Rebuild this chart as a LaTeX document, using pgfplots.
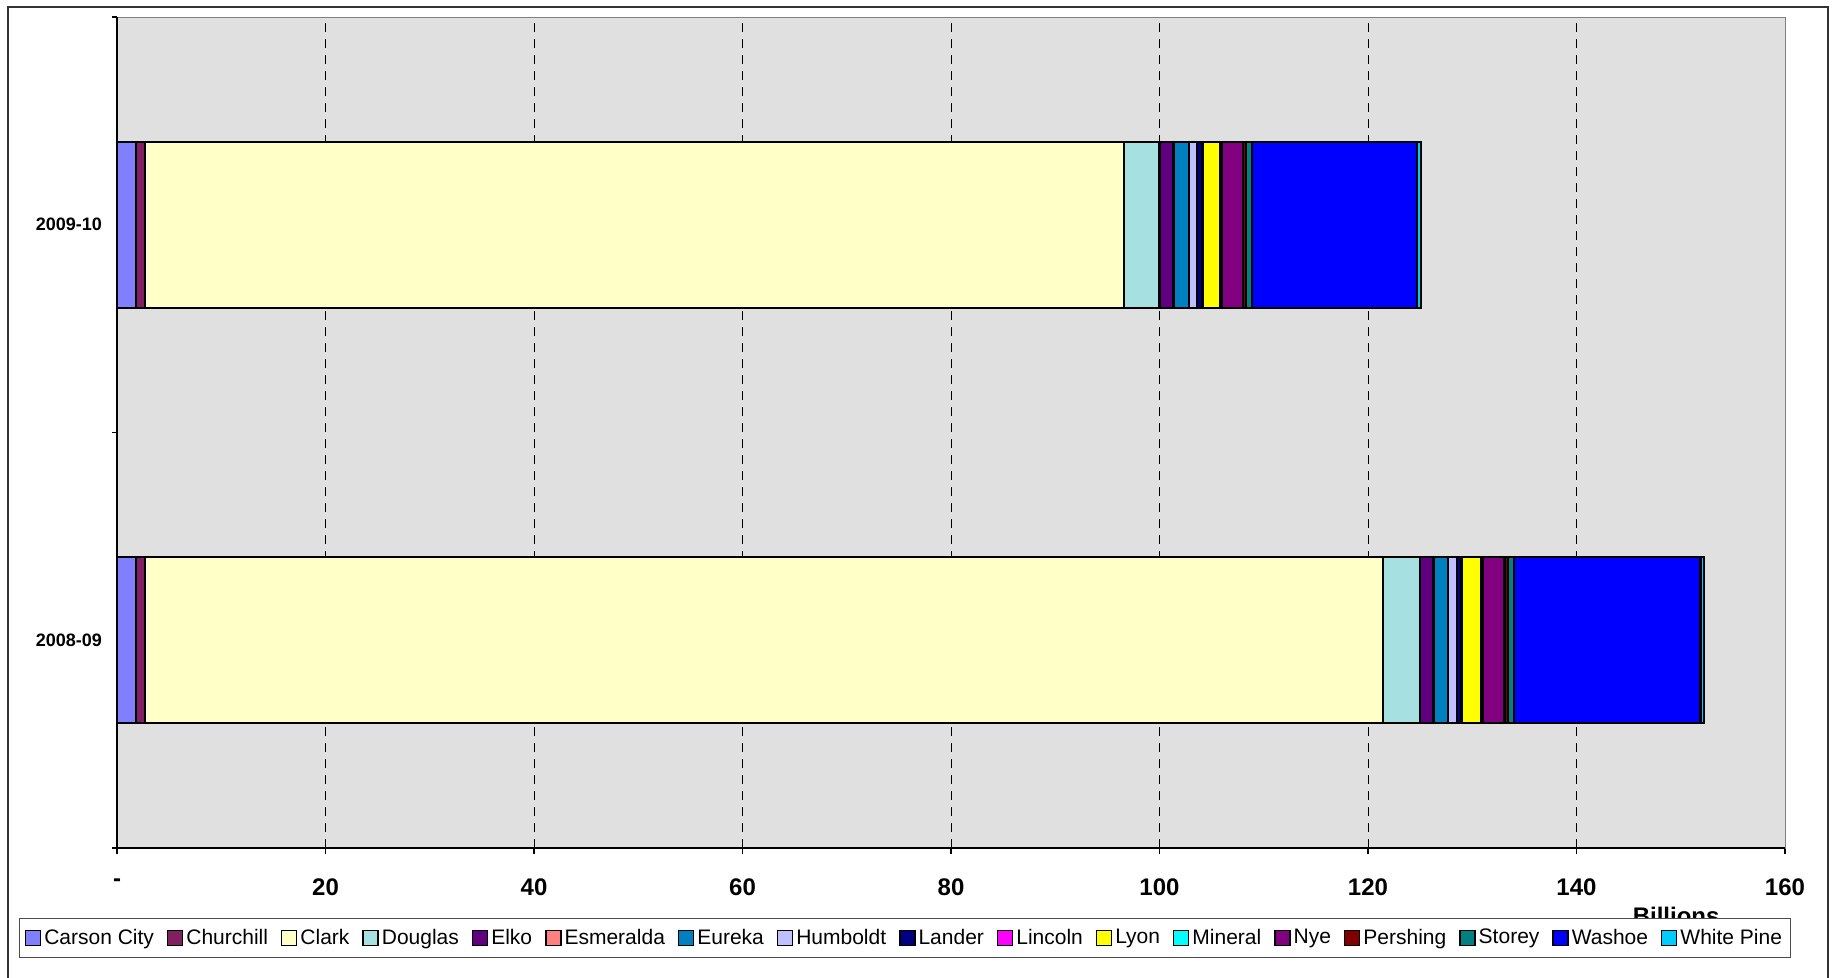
\documentclass[border=0pt]{standalone}
\usepackage{fontspec}
\setmainfont{Liberation Sans}
\usepackage{pgfplots}
\pgfplotsset{compat=1.18}
\definecolor{cCarson}{RGB}{128,128,255}
\definecolor{cChurchill}{RGB}{128,32,96}
\definecolor{cClark}{RGB}{255,255,200}
\definecolor{cDouglas}{RGB}{166,224,224}
\definecolor{cElko}{RGB}{96,0,128}
\definecolor{cEsmeralda}{RGB}{255,128,128}
\definecolor{cEureka}{RGB}{0,128,192}
\definecolor{cHumboldt}{RGB}{192,192,255}
\definecolor{cLander}{RGB}{0,0,128}
\definecolor{cLincoln}{RGB}{255,0,255}
\definecolor{cLyon}{RGB}{255,255,0}
\definecolor{cMineral}{RGB}{0,255,255}
\definecolor{cNye}{RGB}{128,0,128}
\definecolor{cPershing}{RGB}{128,0,0}
\definecolor{cStorey}{RGB}{0,128,128}
\definecolor{cWashoe}{RGB}{0,0,255}
\definecolor{cWhitePine}{RGB}{0,204,255}
\definecolor{plotbg}{RGB}{224,224,224}
\begin{document}
\begin{tikzpicture}[x=1pt,y=1pt]
\path[use as bounding box] (0,0) rectangle (920.5,489);
\draw[line width=1pt, black!80] (4,-5) -- (4,485.5) -- (914,485.5) -- (914,-5);
\begin{axis}[
  at={(58.5pt,65pt)}, anchor=south west,
  scale only axis, width=834pt, height=415.5pt,
  clip mode=individual,
  xbar stacked, bar width=83pt,
  xmin=0, xmax=160, ymin=-0.5, ymax=1.5,
  axis background/.style={fill=plotbg},
  axis line style={draw=gray},
  xtick={0,20,40,60,80,100,120,140,160},
  xticklabels={\textbf{-},\textbf{20},\textbf{40},\textbf{60},\textbf{80},\textbf{100},\textbf{120},\textbf{140},\textbf{160}},
  xticklabel style={font=\fontsize{12}{14}\selectfont, yshift=-9pt},
  xtick pos=bottom, ytick pos=left,
  tick align=outside,
  major tick length=3pt,
  tick style={black, line width=0.6pt},
  xmajorgrids, grid style={black, dash pattern=on 4.5pt off 3.5pt, line width=0.5pt},
  ytick={0,1}, yticklabels={\textbf{2008-09},\textbf{2009-10}},
  yticklabel style={font=\fontsize{9}{11}\selectfont, xshift=-1pt},
  ytick style={draw=none},
  extra y ticks={-0.5,0.5,1.5}, extra y tick labels={},
  extra y tick style={ytick style={draw=black, line width=0.6pt}, major tick length=2.5pt, grid=none},
  every axis plot/.append style={draw=black, line width=1.1pt},
  legend columns=-1,
  legend style={at={(0.4724,-0.1083)}, anchor=center, draw=gray!60!black, fill=white,
    font=\fontsize{10.5}{12}\selectfont, inner xsep=2.5pt, inner ysep=3pt,
    /tikz/every even column/.append style={column sep=5pt},
    nodes={inner xsep=1.5pt}},
  legend image code/.code={\draw[#1, draw=black, line width=0.7pt] (0pt,-3.75pt) rectangle (7.5pt,3.75pt);},
]
\addplot[fill=cCarson] coordinates {(1.8,0) (1.8,1)};
\addplot[fill=cChurchill] coordinates {(0.9,0) (0.9,1)};
\addplot[fill=cClark] coordinates {(118.7,0) (93.9,1)};
\addplot[fill=cDouglas] coordinates {(3.6,0) (3.4,1)};
\addplot[fill=cElko] coordinates {(1.2,0) (1.3,1)};
\addplot[fill=cEsmeralda] coordinates {(0.1,0) (0.1,1)};
\addplot[fill=cEureka] coordinates {(1.4,0) (1.4,1)};
\addplot[fill=cHumboldt] coordinates {(0.8,0) (0.8,1)};
\addplot[fill=cLander] coordinates {(0.4,0) (0.5,1)};
\addplot[fill=cLincoln] coordinates {(0.1,0) (0.1,1)};
\addplot[fill=cLyon] coordinates {(1.8,0) (1.6,1)};
\addplot[fill=cMineral] coordinates {(0.2,0) (0.2,1)};
\addplot[fill=cNye] coordinates {(2.1,0) (2.0,1)};
\addplot[fill=cPershing] coordinates {(0.3,0) (0.3,1)};
\addplot[fill=cStorey] coordinates {(0.6,0) (0.6,1)};
\addplot[fill=cWashoe] coordinates {(17.9,0) (15.8,1)};
\addplot[fill=cWhitePine] coordinates {(0.3,0) (0.4,1)};
\legend{Carson City,Churchill,Clark,Douglas,Elko,Esmeralda,Eureka,Humboldt,Lander,Lincoln,Lyon,Mineral,Nye,Pershing,Storey,Washoe,White Pine}
\draw[black, line width=1pt] (rel axis cs:0,1) -- (rel axis cs:0,0) -- (rel axis cs:1,0);
\node[font=\bfseries\fontsize{12}{14}\selectfont, anchor=base] at (rel axis cs:0.9347,-0.0915) {Billions};
\end{axis}
\end{tikzpicture}
\end{document}
